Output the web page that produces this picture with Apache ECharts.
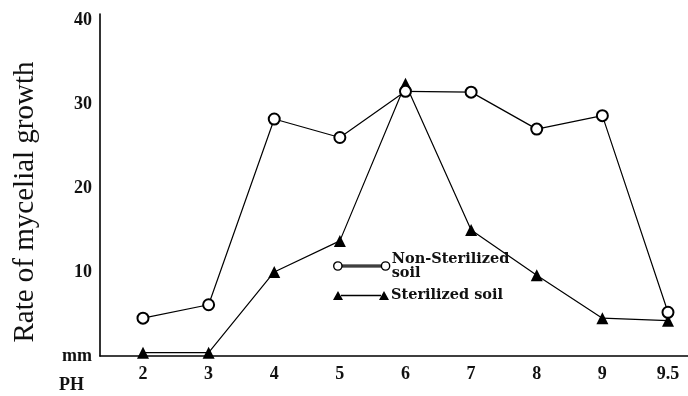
<!DOCTYPE html>
<html>
<head>
<meta charset="utf-8">
<script src="https://cdn.jsdelivr.net/npm/echarts@6/dist/echarts.min.js"></script>
<style>html,body{margin:0;padding:0;background:#fff;}#c{width:688px;height:396px;}</style>
</head>
<body>
<div id="c"></div>
<script>
const categories = ['2', '3', '4', '5', '6', '7', '8', '9', '9.5'];
const nonSterilized = [4.5, 6.1, 28.2, 26.0, 31.5, 31.4, 27.0, 28.6, 5.2];
const sterilized = [0.4, 0.4, 10.0, 13.7, 32.4, 15.0, 9.6, 4.5, 4.2];
const yTicks = [0, 10, 20, 30, 40];

const serif = '"Liberation Serif", "DejaVu Serif", serif';
const toPairs = arr => arr.map((v, i) => [i, v]);

const nsIcon = 'path://M1,5 A4,4 0 1,0 9,5 A4,4 0 1,0 1,5 Z M9,4.2 L47,4.2 L47,5.8 L9,5.8 Z M47,5 A4,4 0 1,0 55,5 A4,4 0 1,0 47,5 Z';
const sIcon = 'path://M0,9.5 L5,0.5 L10,9.5 Z M8,4.2 L48,4.2 L48,5.8 L8,5.8 Z M46,9.5 L51,0.5 L56,9.5 Z';

const chart = echarts.init(document.getElementById('c'), null, {renderer: 'canvas'});
chart.setOption({
  animation: false,
  backgroundColor: '#fff',
  grid: {left: 100, right: 0, top: 14, bottom: 40, containLabel: false},
  xAxis: {
    type: 'value',
    min: -0.655,
    max: 8.305,
    axisLine: {show: true, onZero: false, lineStyle: {color: '#000', width: 1.6}},
    axisTick: {show: false},
    splitLine: {show: false},
    axisLabel: {
      customValues: categories.map((c, i) => i),
      formatter: v => categories[Math.round(v)],
      margin: 9,
      color: '#111',
      fontFamily: serif,
      fontWeight: 'bold',
      fontSize: 18
    }
  },
  yAxis: {
    type: 'value',
    min: 0,
    max: 40.7,
    name: 'Rate of mycelial growth',
    nameLocation: 'middle',
    nameGap: 60,
    nameTextStyle: {fontFamily: serif, fontSize: 29, color: '#111', padding: [0, 34, 0, 0]},
    axisLine: {show: true, onZero: false, lineStyle: {color: '#000', width: 1.6}},
    axisTick: {show: false},
    splitLine: {show: false},
    axisLabel: {
      customValues: yTicks,
      formatter: v => (v === 0 ? 'mm' : String(v)),
      margin: 8,
      color: '#111',
      fontFamily: serif,
      fontWeight: 'bold',
      fontSize: 18
    }
  },
  legend: [
    {
      left: 333, top: 245, padding: 0, orient: 'vertical',
      itemWidth: 56, itemHeight: 10, itemGap: 3,
      data: [{name: 'Non-Sterilized soil', icon: nsIcon,
        itemStyle: {color: '#fff', borderColor: '#000', borderWidth: 1.4}}],
      formatter: () => 'Non-Sterilized\nsoil',
      textStyle: {fontFamily: '"DejaVu Serif", serif', fontWeight: 'bold', fontSize: 14.5,
        lineHeight: 14, color: '#111', padding: [14, 0, 0, -3]}
    },
    {
      left: 333, top: 288, padding: 0,
      itemWidth: 56, itemHeight: 10,
      data: [{name: 'Sterilized soil', icon: sIcon,
        itemStyle: {color: '#000', borderColor: '#000', borderWidth: 0}}],
      textStyle: {fontFamily: '"DejaVu Serif", serif', fontWeight: 'bold', fontSize: 14.5,
        lineHeight: 14, color: '#111', padding: [0, 0, 0, -3]}
    }
  ],
  graphic: [{
    type: 'text', left: 59, top: 376,
    style: {text: 'PH', font: 'bold 18px "Liberation Serif", serif', fill: '#111'}
  }],
  series: [
    {
      name: 'Non-Sterilized soil',
      type: 'line',
      data: toPairs(nonSterilized),
      symbol: 'circle',
      symbolSize: 11,
      lineStyle: {color: '#000', width: 1.2},
      itemStyle: {color: '#fff', borderColor: '#000', borderWidth: 2},
      z: 3
    },
    {
      name: 'Sterilized soil',
      type: 'line',
      data: toPairs(sterilized),
      symbol: 'triangle',
      symbolSize: 12,
      lineStyle: {color: '#000', width: 1.2},
      itemStyle: {color: '#000', borderColor: '#000', borderWidth: 0},
      z: 2
    }
  ]
});
</script>
</body>
</html>
